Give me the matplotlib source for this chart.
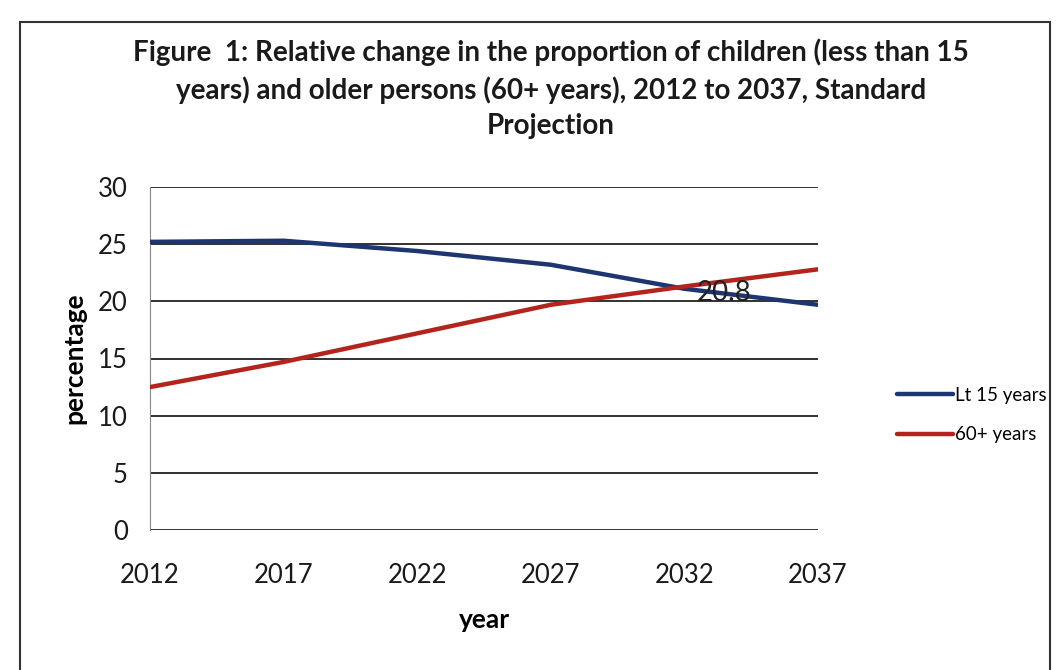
import matplotlib
matplotlib.use("Agg")
import matplotlib.pyplot as plt
from matplotlib.patches import Rectangle

years = [2012, 2017, 2022, 2027, 2032, 2037]
lt15 = [25.2, 25.3, 24.4, 23.2, 21.1, 19.7]
over60 = [12.5, 14.7, 17.2, 19.7, 21.3, 22.8]
yticks = [0, 5, 10, 15, 20, 25, 30]
label_value = "20.8"

plt.rcParams['font.family'] = ['Lato', 'DejaVu Sans']

fig = plt.figure(figsize=(10.59, 6.7), dpi=100)
ax = fig.add_axes([150/1059, 1 - 530/670, (818-150)/1059, (530-187)/670])

ax.plot(years, lt15, color='#1d3570', lw=3.2, solid_capstyle='round', label='Lt 15 years', zorder=3)
ax.plot(years, over60, color='#b3241c', lw=3.2, solid_capstyle='round', label='60+ years', zorder=4)
ax.text(2033.5, 20.7, label_value, fontsize=20, ha='center', va='center', color='#222222', zorder=5)

ax.set_xlim(2012, 2037)
ax.set_ylim(0, 30)
ax.set_yticks(yticks)
ax.set_xticks(years)
ax.grid(axis='y', color='#222222', lw=1.3)
ax.set_axisbelow(True)
for s in ['top', 'right', 'bottom']:
    ax.spines[s].set_visible(False)
ax.spines['left'].set_color('#888888')
ax.tick_params(axis='both', length=0, labelsize=18.5, colors='#1a1a1a')
ax.tick_params(axis='y', pad=16)
ax.tick_params(axis='x', pad=24)

ax.set_ylabel('percentage', fontsize=19, fontweight='bold', labelpad=8)
ax.set_xlabel('year', fontsize=19, fontweight='bold', labelpad=14)

fig.text(551/1059, 1 - 89/670,
         "Figure  1: Relative change in the proportion of children (less than 15\n"
         "years) and older persons (60+ years), 2012 to 2037, Standard\n"
         "Projection",
         ha='center', va='center', fontsize=20, fontweight='bold', linespacing=1.45, color='#1a1a1a')

leg = fig.legend(loc='center left', bbox_to_anchor=(880/1059, 1 - 415/670), frameon=False,
                 fontsize=13.5, handlelength=3.0, handletextpad=0.1, labelspacing=1.2)

fig.patches.append(Rectangle((20/1059, -0.05), (1050-20)/1059, (1 - 22/670) + 0.05,
                             transform=fig.transFigure, fill=False, edgecolor='#333333', lw=1.5))

fig.savefig('out.png', dpi=100)
